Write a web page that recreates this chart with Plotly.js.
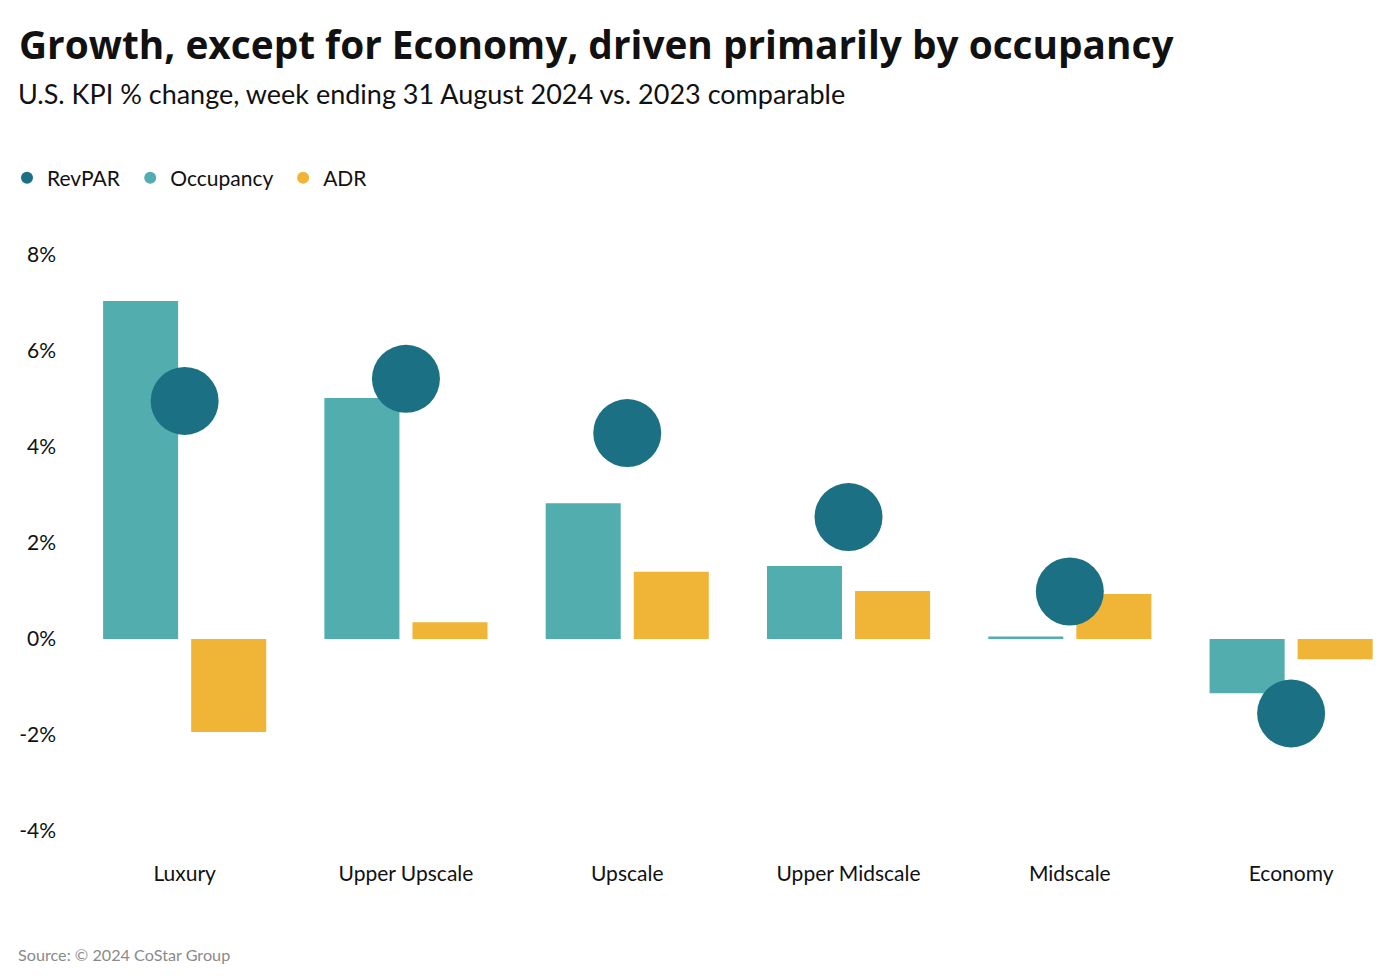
<!DOCTYPE html>
<html>
<head>
<meta charset="utf-8">
<script src="https://cdn.plot.ly/plotly-3.0.1.min.js"></script>
<style>html,body{margin:0;padding:0;background:#fff;}#chart{width:1400px;height:976px;}</style>
</head>
<body>
<div id="chart"></div>
<script>
const categories = ["Luxury", "Upper Upscale", "Upscale", "Upper Midscale", "Midscale", "Economy"];
const revpar    = [4.96, 5.42, 4.29, 2.54, 0.99, -1.55];
const occupancy = [7.04, 5.02, 2.83, 1.52, 0.05, -1.13];
const adr       = [-1.94, 0.35, 1.40, 1.00, 0.94, -0.42];
const yTickVals = [-4, -2, 0, 2, 4, 6, 8];
const yTickText = ["-4%", "-2%", "0%", "2%", "4%", "6%", "8%"];
const seriesNames = ["RevPAR", "Occupancy", "ADR"];

const C_REV = "#1b7083", C_OCC = "#52aeae", C_ADR = "#f0b537";
const FONT = "Lato, 'Noto Sans', sans-serif";
const NB = "\u00a0";

const traces = [
  {type: "bar", name: seriesNames[1], x: categories, y: occupancy, marker: {color: C_OCC, line: {width: 0}}, showlegend: false},
  {type: "bar", name: seriesNames[2], x: categories, y: adr, marker: {color: C_ADR, line: {width: 0}}, showlegend: false},
  {type: "scatter", mode: "markers", name: seriesNames[0], x: categories, y: revpar, marker: {color: C_REV, size: 68, line: {width: 0}}, showlegend: false, cliponaxis: false},
  {type: "scatter", mode: "markers", name: seriesNames[0] + NB, x: [null], y: [null], marker: {color: C_REV, size: 17}, showlegend: true},
  {type: "scatter", mode: "markers", name: seriesNames[1] + NB, x: [null], y: [null], marker: {color: C_OCC, size: 17}, showlegend: true},
  {type: "scatter", mode: "markers", name: seriesNames[2], x: [null], y: [null], marker: {color: C_ADR, size: 17}, showlegend: true}
];

const layout = {
  width: 1400, height: 976,
  paper_bgcolor: "#fff", plot_bgcolor: "#fff",
  font: {family: FONT, color: "#111", size: 21},
  title: {
    text: "<b>Growth, except for Economy, driven primarily by occupancy</b>",
    font: {family: "'Open Sans', Lato, sans-serif", size: 38.8, color: "#111"},
    xref: "container", yref: "container", x: 19/1400, xanchor: "left", y: 1 - 45/976, yanchor: "middle", pad: {l: 0, r: 0, t: 0, b: 0}
  },
  annotations: [
    {text: "U.S. KPI % change, week ending 31 August 2024 vs. 2023 comparable", xref: "paper", yref: "paper",
     x: -58/1326, xanchor: "left", y: 1 + (255-93)/576, yanchor: "middle", showarrow: false,
     font: {family: FONT, size: 27, color: "#111"}},
    {text: "Source: © 2024 CoStar Group", xref: "paper", yref: "paper",
     x: -58/1326, xanchor: "left", y: -(954-831)/576, yanchor: "middle", showarrow: false,
     font: {family: FONT, size: 16.2, color: "#8a8a8a"}}
  ],
  margin: {l: 74, r: 0, t: 255, b: 145, pad: 0},
  barmode: "group", bargap: 0.204, bargroupgap: 0.148,
  showlegend: true,
  legend: {orientation: "h", xref: "container", yref: "container", x: 0.005, xanchor: "left", y: 1 - 178/976, yanchor: "middle",
           font: {family: FONT, size: 21, color: "#111"}, itemsizing: "constant", tracegroupgap: 0, bgcolor: "rgba(0,0,0,0)"},
  xaxis: {type: "category", range: [-0.5, 5.492], showgrid: false, zeroline: false, showline: false, ticks: "", tickfont: {size: 21, color: "#111"}, ticklabelstandoff: 28, fixedrange: true},
  yaxis: {range: [-4, 8], tickvals: yTickVals, ticktext: yTickText, showgrid: false, zeroline: false, showline: false, ticks: "",
          tickfont: {size: 21, color: "#111"}, ticklabelstandoff: 17, fixedrange: true}
};

Plotly.newPlot("chart", traces, layout, {displayModeBar: false, staticPlot: true});
</script>
</body>
</html>
